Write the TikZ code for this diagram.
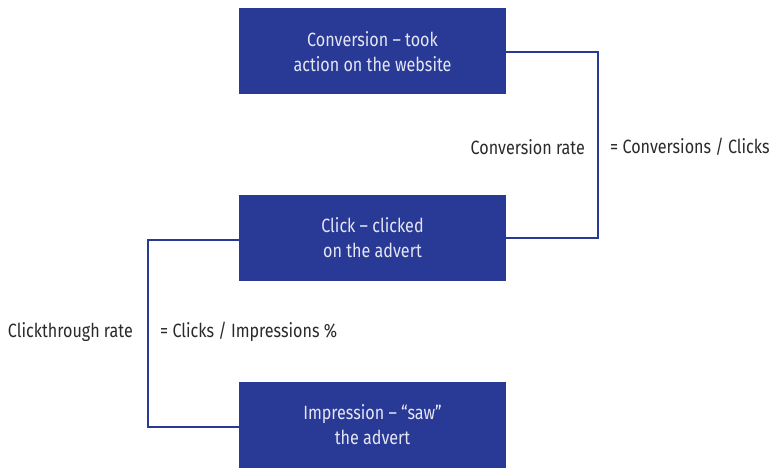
\documentclass[tikz,border=0pt]{standalone}
\usepackage{fontspec}
\setmainfont{Fira Sans}[FakeStretch=0.84]
\definecolor{boxblue}{HTML}{283996}
\definecolor{boxtext}{HTML}{E6E6F2}
\definecolor{labtext}{HTML}{2A2A2A}
\begin{document}
\begin{tikzpicture}[x=1pt,y=-1pt,
  stage/.style={fill=boxblue,draw=none,minimum width=267pt,minimum height=86pt,
    text=boxtext,align=center,font=\fontsize{19.2}{25}\selectfont,inner sep=0pt},
  link/.style={draw=boxblue,line width=2pt},
  lab/.style={text=labtext,font=\fontsize{19.2}{20}\selectfont,inner sep=0pt}]
\useasboundingbox (0,0) rectangle (776,468);
\node[stage] (conv) at (372.5,51.5) {Conversion – took\\action on the website};
\node[stage] (click) at (372.5,237.5) {Click – clicked\\on the advert};
\node[stage] (imp) at (372.5,424.5) {Impression – “saw”\\the advert};
\coordinate (r1) at (597.5,52);
\coordinate (r2) at (597.5,238);
\coordinate (l1) at (148,240);
\coordinate (l2) at (148,426.5);
\draw[link] (conv.east |- r1) -- (r1) -- (r2) -- (click.east |- r2);
\draw[link] (click.west |- l1) -- (l1) -- (l2) -- (imp.west |- l2);
\node[lab,anchor=east] (cr) at (585,147) {Conversion rate};
\node[lab,anchor=west] (crf) at (610,147) {= Conversions / Clicks};
\node[lab,anchor=east] (ctr) at (133,332) {Clickthrough rate};
\node[lab,anchor=west] (ctrf) at (160,332) {= Clicks / Impressions \%};
\end{tikzpicture}
\end{document}
